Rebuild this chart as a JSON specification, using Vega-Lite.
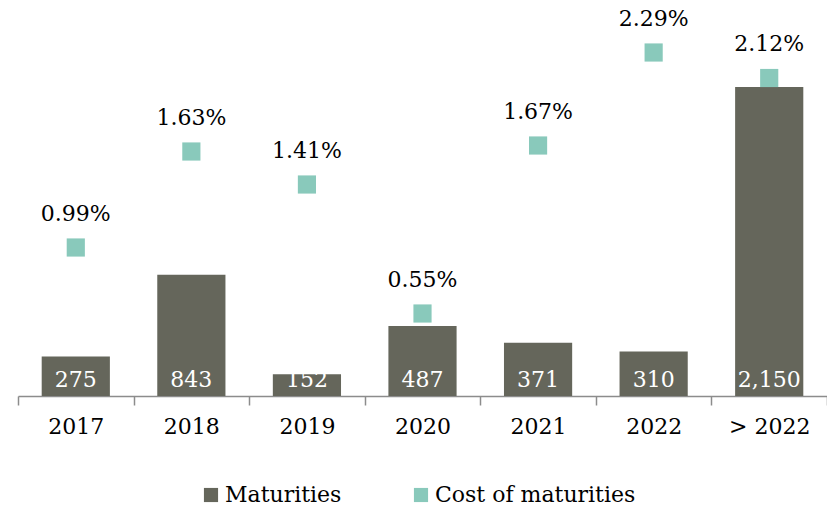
{
  "$schema": "https://vega.github.io/schema/vega-lite/v6.json",
  "width": 809,
  "height": 396,
  "autosize": "none",
  "padding": {"left": 18, "top": 0, "right": 0, "bottom": 110},
  "background": "white",
  "config": {
    "view": {"stroke": null},
    "font": "DejaVu Serif",
    "text": {"font": "DejaVu Serif"}
  },
  "data": {
    "values": [
      {"year": "2017", "maturities": 275, "cost": 0.0099, "m": "Maturities", "c": "Cost of maturities"},
      {"year": "2018", "maturities": 843, "cost": 0.0163, "m": "Maturities", "c": "Cost of maturities"},
      {"year": "2019", "maturities": 152, "cost": 0.0141, "m": "Maturities", "c": "Cost of maturities"},
      {"year": "2020", "maturities": 487, "cost": 0.0055, "m": "Maturities", "c": "Cost of maturities"},
      {"year": "2021", "maturities": 371, "cost": 0.0167, "m": "Maturities", "c": "Cost of maturities"},
      {"year": "2022", "maturities": 310, "cost": 0.0229, "m": "Maturities", "c": "Cost of maturities"},
      {"year": "> 2022", "maturities": 2150, "cost": 0.0212, "m": "Maturities", "c": "Cost of maturities"}
    ]
  },
  "encoding": {
    "x": {
      "field": "year",
      "type": "ordinal",
      "sort": null,
      "scale": {"paddingInner": 0, "paddingOuter": 0},
      "axis": {
        "title": null,
        "labelAngle": 0,
        "labelFont": "DejaVu Serif",
        "labelFontSize": 22,
        "labelColor": "#000000",
        "labelPadding": 11,
        "tickBand": "extent",
        "tickSize": 9,
        "tickColor": "#8c8c8c",
        "domainColor": "#8c8c8c",
        "tickWidth": 1.5,
        "domainWidth": 1.5
      }
    }
  },
  "layer": [
    {
      "layer": [
        {
          "mark": {"type": "bar", "width": {"band": 0.59}},
          "encoding": {
            "y": {"field": "maturities", "type": "quantitative", "scale": {"domain": [0, 2756]}, "axis": null},
            "color": {
              "field": "m",
              "type": "nominal",
              "scale": {"domain": ["Maturities", "Cost of maturities"], "range": ["#65665b", "#89c9bb"]},
              "legend": {
                "title": null,
                "orient": "none",
                "legendX": 182,
                "legendY": 484,
                "direction": "horizontal",
                "columns": 2,
                "columnPadding": 68,
                "symbolType": "square",
                "symbolSize": 200,
                "symbolStrokeWidth": 0,
                "labelFont": "DejaVu Serif",
                "labelFontSize": 22,
                "labelColor": "#000000",
                "labelOffset": 3,
                "labelLimit": 400
              }
            }
          }
        },
        {
          "mark": {"type": "text", "color": "white", "fontSize": 22, "baseline": "middle", "dy": -16},
          "encoding": {
            "y": {"datum": 0, "type": "quantitative", "scale": {"domain": [0, 2756]}},
            "text": {"field": "maturities", "type": "quantitative", "format": ","}
          }
        }
      ]
    },
    {
      "layer": [
        {
          "mark": {"type": "point", "shape": "square", "filled": true, "size": 330, "opacity": 1},
          "encoding": {
            "y": {"field": "cost", "type": "quantitative", "scale": {"domain": [0, 0.0264]}, "axis": null},
            "color": {"field": "c", "type": "nominal"}
          }
        },
        {
          "mark": {"type": "text", "color": "#000000", "fontSize": 22, "baseline": "middle", "dy": -34},
          "encoding": {
            "y": {"field": "cost", "type": "quantitative", "scale": {"domain": [0, 0.0264]}},
            "text": {"field": "cost", "type": "quantitative", "format": ".2%"}
          }
        }
      ]
    }
  ],
  "resolve": {"scale": {"y": "independent"}}
}
